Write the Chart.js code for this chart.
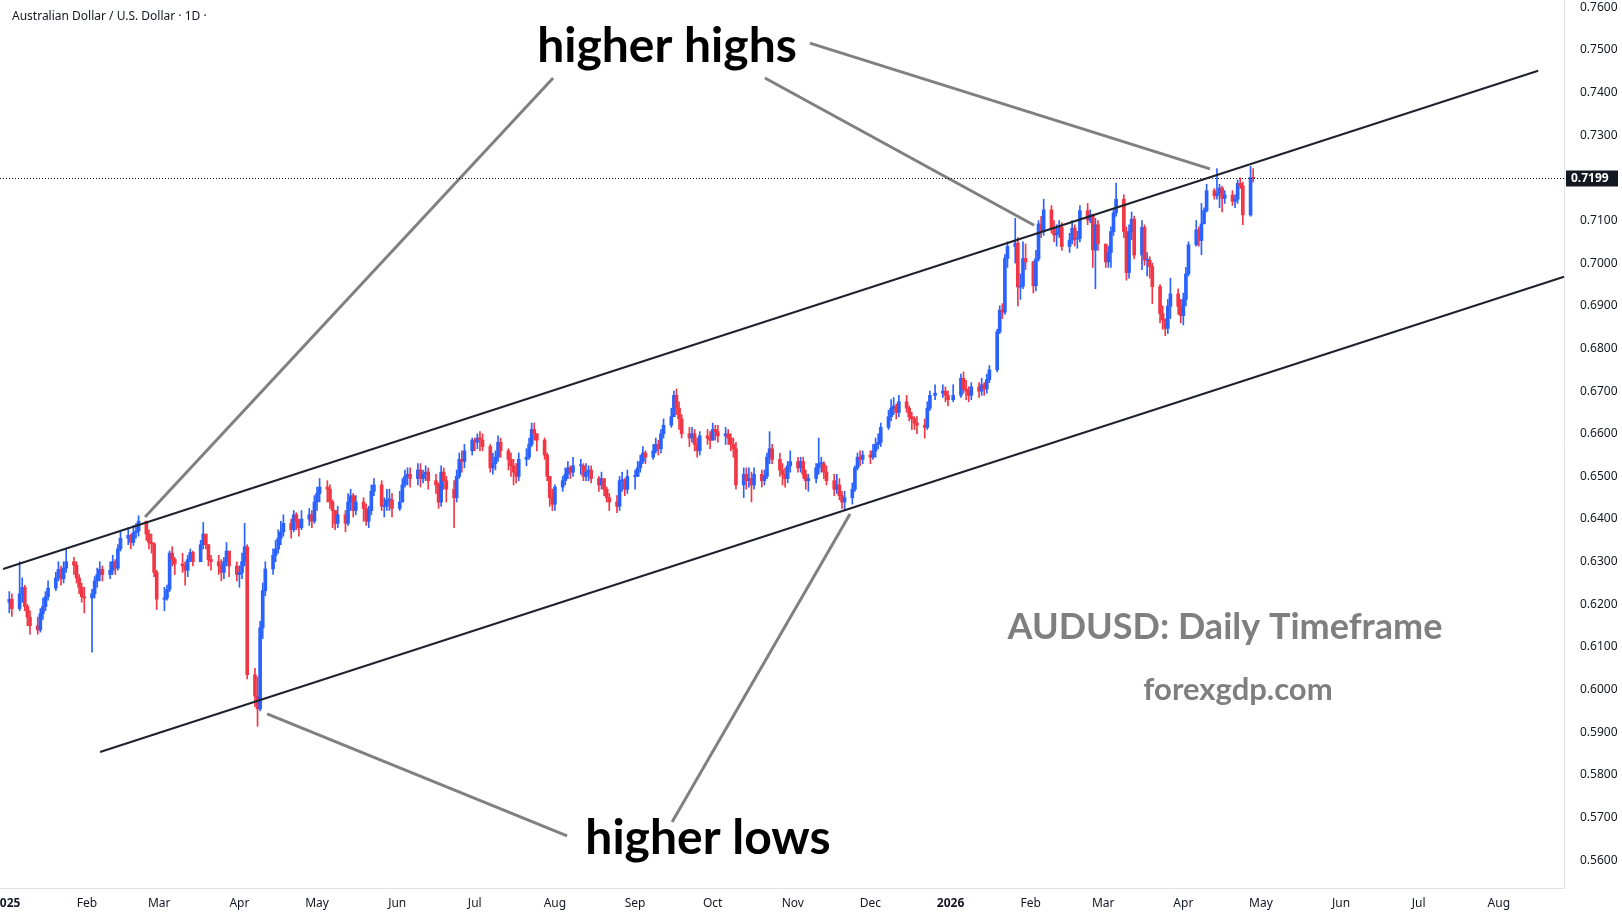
<!DOCTYPE html>
<html><head><meta charset="utf-8">
<script src="https://cdn.jsdelivr.net/npm/chart.js@4.4.0/dist/chart.umd.min.js"></script>
<style>html,body{margin:0;padding:0;background:#fff;overflow:hidden}#wrap{width:1622px;height:921px}</style>
</head><body><div id="wrap"><canvas id="c" width="1622" height="921"></canvas></div>
<script>
// Daily AUDUSD prices in pips (x10000), Jan 2 2025 .. Apr 28 2026, one value per trading day
const firstOpen = 6205;
const closes = [
6212,6190,6225,6240,6195,6170,6150,6140,6178,6195,6218,6238,6262,6282,6260,6285,6300,6292,6262,6240,6218,6215,
6225,6255,6270,6282,6270,6280,6300,6285,6330,6355,6362,6345,6368,6372,6395,6365,6345,6342,6275,6212,
6215,6235,6320,6305,6295,6290,6280,6305,6322,6300,6340,6365,6340,6305,6300,6290,6275,6300,6325,6290,6270,
6275,6300,6335,6035,5985,5955,6145,6232,6283,6315,6330,6355,6370,6390,6375,6410,6395,6380,6400,6410,6395,6440,
6460,6475,6470,6440,6420,6390,6410,6390,6440,6455,6420,6440,6425,6395,6420,6465,6480,6430,6430,6445,6445,6425,
6440,6480,6500,6505,6495,6515,6495,6505,6510,6490,6480,6440,6510,6490,6470,6450,6500,6540,6535,6560,6585,
6580,6590,6585,6570,6520,6530,6545,6580,6560,6540,6525,6510,6500,6540,6545,6575,6610,6600,6585,6550,6500,6450,6435,
6475,6490,6505,6520,6510,6525,6525,6500,6510,6515,6495,6480,6495,6470,6450,6440,6430,6490,6490,6470,6500,
6500,6520,6535,6555,6545,6560,6575,6565,6600,6620,6640,6690,6660,6635,6600,6590,6600,6575,6560,6595,6590,6585,
6610,6605,6595,6600,6590,6575,6565,6480,6505,6490,6495,6480,6505,6490,6500,6545,6565,6540,6515,6505,6495,6525,6535,
6520,6535,6505,6490,6495,6520,6530,6530,6510,6490,6470,6480,6455,6440,6450,6470,6520,6545,6540,6550,
6545,6560,6575,6580,6615,6640,6660,6665,6650,6675,6660,6640,6635,6625,6620,6615,6660,6690,6695,6700,6690,6680,
6690,6730,6705,6700,6690,6710,6700,6715,6705,6727,6750,6839,6890,6885,7011,7039,7047,6944,6946,7011,7003,
6947,7010,7092,7074,7125,7082,7066,7070,7084,7039,7054,7082,7056,7058,7123,7101,7113,7031,7090,7045,
7003,7025,7074,7118,7150,7074,6978,7074,7103,7019,7084,7007,7007,6992,6945,6882,6867,6847,6899,6928,6899,6877,
6915,6975,7043,7078,7053,7092,7123,7170,7158,7164,7176,7152,7160,7145,7150,7187,7181,7113,7201,7199];
const highs = [
6230,6225,6300,6262,6245,6200,6185,6170,6190,6215,6230,6255,6275,6300,6290,6300,6330,6310,6300,6270,6250,6240,
6235,6265,6285,6300,6290,6300,6315,6305,6340,6370,6380,6365,6385,6390,6408,6395,6375,6365,6345,6280,
6240,6245,6325,6335,6310,6320,6300,6315,6330,6325,6350,6392,6360,6340,6315,6315,6305,6310,6345,6315,6300,
6290,6320,6390,6340,6050,6030,6160,6250,6300,6330,6350,6375,6395,6410,6400,6420,6415,6400,6420,6425,6420,6455,
6475,6495,6490,6480,6445,6420,6430,6420,6460,6470,6460,6455,6450,6435,6430,6480,6495,6490,6450,6470,6470,6460,
6465,6495,6515,6520,6520,6530,6530,6515,6525,6520,6505,6485,6525,6520,6500,6490,6515,6555,6560,6575,6590,
6590,6600,6605,6600,6575,6555,6560,6595,6590,6565,6555,6540,6530,6555,6565,6590,6625,6625,6600,6590,6555,6500,6470,
6480,6500,6520,6535,6525,6545,6540,6530,6530,6525,6525,6500,6510,6490,6475,6460,6455,6500,6510,6495,6515,
6515,6535,6550,6570,6560,6575,6590,6585,6610,6635,6660,6700,6705,6675,6645,6615,6615,6610,6590,6605,6610,6605,
6625,6620,6620,6615,6610,6600,6590,6580,6520,6520,6520,6510,6520,6515,6515,6555,6605,6575,6555,6530,6520,6535,6560,
6545,6545,6545,6515,6505,6530,6590,6545,6535,6525,6505,6505,6495,6465,6465,6485,6525,6555,6560,6560,
6560,6575,6590,6600,6625,6655,6680,6685,6670,6690,6690,6665,6650,6640,6640,6635,6675,6700,6715,6715,6710,6700,
6715,6740,6745,6725,6710,6720,6720,6730,6720,6740,6760,6845,6900,6905,7020,7050,7105,7060,6975,7050,7045,
7005,7030,7100,7110,7150,7135,7100,7090,7100,7095,7070,7100,7090,7075,7135,7140,7125,7115,7105,7100,
7040,7040,7085,7125,7188,7160,7085,7090,7120,7110,7100,7090,7025,7015,7000,6950,6900,6870,6915,6965,6940,6915,
6930,6990,7050,7100,7085,7140,7130,7185,7175,7222,7185,7180,7170,7170,7160,7195,7200,7190,7227,7222];
const lows = [
6180,6172,6185,6205,6185,6150,6130,6130,6135,6165,6185,6210,6232,6255,6245,6250,6275,6270,6250,6225,6205,6180,
6088,6215,6240,6255,6255,6260,6270,6270,6280,6325,6340,6330,6338,6355,6360,6350,6330,6320,6265,6188,
6185,6210,6230,6290,6270,6275,6245,6265,6300,6290,6300,6330,6330,6290,6280,6270,6255,6260,6290,6265,6255,
6240,6260,6290,6025,5960,5914,5950,6120,6220,6270,6300,6320,6340,6360,6355,6370,6375,6360,6375,6385,6380,6390,
6420,6440,6440,6425,6380,6375,6380,6370,6385,6420,6405,6410,6395,6385,6380,6410,6455,6420,6405,6420,6420,6405,
6420,6440,6475,6480,6475,6480,6475,6485,6490,6470,6460,6425,6430,6470,6440,6380,6440,6495,6510,6520,6550,
6560,6565,6560,6560,6510,6505,6515,6535,6545,6515,6500,6480,6485,6490,6525,6540,6570,6585,6560,6540,6490,6430,6420,
6420,6465,6480,6495,6495,6500,6505,6490,6490,6490,6485,6465,6470,6455,6440,6420,6415,6420,6465,6455,6460,
6470,6500,6510,6530,6530,6540,6555,6550,6555,6590,6615,6640,6645,6610,6590,6570,6580,6560,6545,6550,6575,6565,
6585,6585,6580,6575,6575,6560,6545,6470,6450,6470,6475,6440,6470,6475,6480,6495,6530,6530,6500,6480,6475,6485,6510,
6510,6510,6495,6470,6465,6485,6505,6510,6495,6480,6455,6460,6445,6425,6420,6435,6465,6515,6525,6530,
6530,6540,6545,6565,6570,6610,6630,6645,6635,6640,6650,6630,6610,6610,6600,6590,6610,6655,6680,6685,6675,6665,
6675,6685,6695,6680,6675,6680,6685,6690,6690,6695,6720,6745,6835,6870,6880,6990,7000,6900,6915,6940,6985,
6930,6935,7005,7060,7065,7070,7050,7040,7060,7030,7025,7045,7040,7035,7050,7090,7095,6990,6940,7030,
6990,6990,6990,7065,7110,7060,6960,6965,7055,7010,6985,6995,6970,6965,6905,6860,6845,6830,6835,6870,6880,6860,
6855,6900,6970,7040,7040,7020,7095,7120,7150,7150,7130,7120,7140,7135,7130,7140,7175,7090,7110,7190];
const lastPrice = 0.7199;
const yTicks = [0.56,0.57,0.58,0.59,0.60,0.61,0.62,0.63,0.64,0.65,0.66,0.67,0.68,0.69,0.70,0.71,0.72,0.73,0.74,0.75,0.76];
// month tick positions: days since Jan 1 2025
const monthDays = [0,31,59,90,120,151,181,212,243,273,304,334,365,396,424,455,485,516,546,577];
const monthLabels = ['2025','Feb','Mar','Apr','May','Jun','Jul','Aug','Sep','Oct','Nov','Dec','2026','Feb','Mar','Apr','May','Jun','Jul','Aug'];
// trend channel lines [day, price]
const upperLine = [[-1.4,0.6283],[592.2,0.7451]];
const lowerLine = [[36.1,0.5854],[602.2,0.6968]];
// pointer lines [day, price]
const pointers = [
 [[211.3,0.7434],[53.5,0.6405]],
 [[293.2,0.7434],[397.3,0.7089]],
 [[310.6,0.7516],[465.3,0.7221]],
 [[100.7,0.5943],[216.7,0.5657]],
 [[257.3,0.5690],[326.1,0.6412]]];

// trading-day calendar (weekdays except Jan 1 and Dec 25)
const days=[];
{let d=new Date(Date.UTC(2025,0,1));let i=0;
 while(days.length<closes.length){const wd=d.getUTCDay();const m=d.getUTCMonth(),dd=d.getUTCDate();
  if(wd!==0&&wd!==6&&!(m===0&&dd===1)&&!(m===11&&dd===25))days.push(i);
  d=new Date(d.getTime()+86400000);i++;}}
const UP='#2962ff',DN='#f23645';
const bodies=[],wicks=[],cols=[];
closes.forEach((c,i)=>{const o=i===0?firstOpen:closes[i-1];
 bodies.push({x:days[i],y:[o/1e4,c/1e4]});wicks.push({x:days[i],y:[lows[i]/1e4,highs[i]/1e4]});
 cols.push(c>=o?UP:DN);});
const lineDs=(pts,color,w)=>({type:'line',data:pts.map(p=>({x:p[0],y:p[1]})),borderColor:color,borderWidth:w,pointRadius:0,fill:false,order:-1,clip:false});

const overlay={id:'overlay',afterDraw(ch){
 const ctx=ch.ctx,xs=ch.scales.x,ys=ch.scales.y,a=ch.chartArea;
 const py=Math.round(ys.getPixelForValue(lastPrice))+0.5;
 ctx.save();ctx.strokeStyle='#131722';ctx.lineWidth=1;ctx.setLineDash([1,2]);
 ctx.beginPath();ctx.moveTo(a.left,py);ctx.lineTo(a.right,py);ctx.stroke();ctx.setLineDash([]);
 ctx.fillStyle='#131722';ctx.fillRect(a.right+2,py-8,52,16);
 ctx.fillStyle='#fff';ctx.font='bold 12px "Noto Sans"';ctx.textBaseline='middle';ctx.textAlign='left';
 ctx.fillText(lastPrice.toFixed(4),a.right+7,py+0.5);
 ctx.fillStyle='#131722';ctx.font='12px "Noto Sans"';ctx.fillText('Australian Dollar / U.S. Dollar \u00b7 1D \u00b7',12,17);
 ctx.textAlign='center';ctx.textBaseline='middle';
 ctx.fillStyle='#000';ctx.font='bold 48px Lato';
 ctx.fillText('higher highs',667,47);ctx.fillText('higher lows',708,839);
 ctx.fillStyle='#7f7f7f';ctx.font='bold 36px Lato';ctx.fillText('AUDUSD: Daily Timeframe',1225,627);
 ctx.font='bold 31px Lato';ctx.fillText('forexgdp.com',1238,690);
 ctx.restore();}};

const noPad=ax=>{ax.paddingLeft=0;ax.paddingRight=0;ax.paddingTop=0;ax.paddingBottom=0;};
new Chart(document.getElementById('c'),{type:'bar',
 data:{datasets:[
  lineDs(upperLine,'#1e222d',2),lineDs(lowerLine,'#1e222d',2),
  ...pointers.map(p=>lineDs(p,'#808080',3)),
  {data:wicks,backgroundColor:cols,barThickness:1,grouped:false,order:2},
  {data:bodies,backgroundColor:cols,barThickness:3,minBarLength:1,grouped:false,order:1}]},
 options:{responsive:false,animation:false,devicePixelRatio:1,
  layout:{padding:{left:0,right:0,top:0,bottom:6}},
  plugins:{legend:{display:false},tooltip:{enabled:false}},
  scales:{
   x:{type:'linear',min:-2.59,max:602.2,offset:false,grid:{display:false},
    border:{color:'#e0e3eb'},
    afterBuildTicks:ax=>{ax.ticks=monthDays.map(v=>({value:v}));},
    afterFit:ax=>{ax.height=27;noPad(ax);},
    ticks:{autoSkip:false,maxRotation:0,color:'#131722',padding:0,
     font:c=>({family:'Noto Sans',size:12,weight:(c.tick&&(c.tick.value===0||c.tick.value===365))?'bold':'normal'}),
     callback:(v)=>{const i=monthDays.indexOf(v);return i>=0?monthLabels[i]:'';}}},
   y:{position:'right',min:0.5535,max:0.7617,grid:{display:false},border:{color:'#e0e3eb'},
    afterBuildTicks:ax=>{ax.ticks=yTicks.map(v=>({value:v}));},
    afterFit:ax=>{ax.width=58;noPad(ax);},
    ticks:{color:'#131722',padding:8,font:{family:'Noto Sans',size:12},callback:v=>v.toFixed(4)}}}},
 plugins:[overlay]});
</script></body></html>
